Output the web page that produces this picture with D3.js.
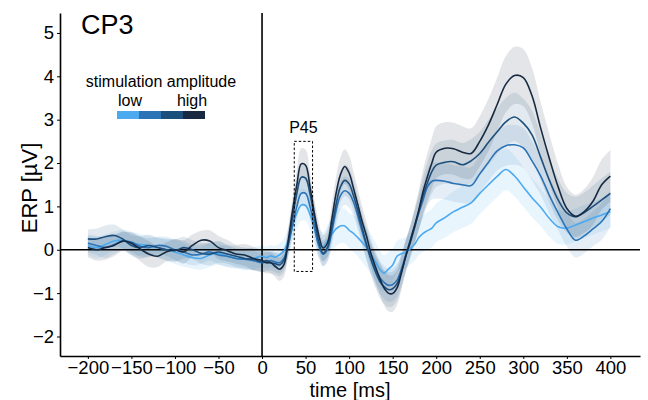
<!DOCTYPE html>
<html>
<head>
<meta charset="utf-8">
<script src="https://cdn.jsdelivr.net/npm/d3@7"></script>
<style>
  body { margin: 0; background: #fff; }
  svg { font-family: "Liberation Sans", Arial, sans-serif; display: block; }
</style>
</head>
<body>
<div id="chart"></div>
<script>
// time points (ms)
const times = [
  -200, -190, -180, -170, -160, -150, -140, -130, -120, -110, -100, -90, -80, -70, -60, -50, -40, -30, -20, -10, 0,
  5, 10, 15, 20, 25, 30, 35, 40, 45, 50, 55, 60, 65, 70, 75, 80, 85, 90, 95, 100,
  105, 110, 115, 120, 125, 130, 135, 140, 145, 150, 155, 160, 165, 170, 175, 180, 185, 190, 195, 200,
  210, 220, 230, 240, 250, 260, 270, 280, 290, 300, 310, 320, 330, 340, 350, 360, 370, 380, 390, 400
];

const levels = ["low", "2", "3", "high"];
const colors = ["#4ba9f0", "#2c73b6", "#1c4f7c", "#172a42"];

// mean ERP per stimulation amplitude (µV)
const erpLow = [
  0.1, 0.05, 0.12, 0.2, 0.22, 0.15, 0.12, 0.1, 0.05, 0.0, -0.05, -0.12, -0.18, -0.2, -0.12, -0.08, -0.15, -0.2, -0.22, -0.2, -0.15,
  -0.18, -0.14, -0.17, -0.12, -0.03, 0.2, 0.55, 0.85, 1.03, 1.02, 0.82, 0.5, 0.15, 0.07, 0.2, 0.35, 0.48, 0.55, 0.55, 0.45,
  0.38, 0.28, 0.17, 0.05, -0.1, -0.27, -0.45, -0.54, -0.45, -0.35, -0.15, -0.09, -0.06, 0.02, 0.12, 0.28, 0.38, 0.44, 0.5, 0.62,
  0.74, 0.88, 0.98, 1.08, 1.3, 1.5, 1.69, 1.85, 1.7, 1.45, 1.2, 0.98, 0.72, 0.53, 0.5, 0.57, 0.65, 0.73, 0.8, 0.88
];
const erp2 = [
  0.15, 0.1, 0.05, 0.12, 0.2, 0.18, 0.08, 0.05, 0.1, 0.08, 0.0, -0.05, -0.12, -0.1, -0.05, -0.12, -0.15, -0.2, -0.22, -0.25, -0.3,
  -0.28, -0.25, -0.28, -0.3, -0.2, 0.1, 0.55, 1.0, 1.3, 1.3, 1.0, 0.55, 0.1, -0.1, 0.0, 0.4, 0.9, 1.25, 1.36, 1.3,
  1.1, 0.78, 0.42, 0.1, -0.2, -0.45, -0.63, -0.75, -0.82, -0.8, -0.7, -0.45, -0.12, 0.2, 0.52, 0.85, 1.15, 1.45, 1.58, 1.6,
  1.58, 1.53, 1.5, 1.48, 1.75, 2.02, 2.28, 2.4, 2.42, 2.35, 2.05, 1.7, 1.25, 0.85, 0.48, 0.22, 0.32, 0.48, 0.65, 0.95
];
const erp3 = [
  0.25, 0.25, 0.3, 0.33, 0.25, 0.1, 0.05, 0.1, 0.05, 0.0, -0.02, 0.05, 0.0, -0.08, -0.1, -0.05, -0.1, -0.15, -0.2, -0.22, -0.28,
  -0.25, -0.3, -0.32, -0.35, -0.25, 0.15, 0.75, 1.3, 1.67, 1.65, 1.3, 0.75, 0.2, -0.08, 0.05, 0.5, 1.05, 1.45, 1.6, 1.52,
  1.25, 0.9, 0.5, 0.12, -0.22, -0.5, -0.72, -0.85, -0.92, -0.9, -0.78, -0.5, -0.15, 0.15, 0.5, 0.88, 1.25, 1.55, 1.8, 1.95,
  2.02, 2.03, 1.96, 2.05, 2.22, 2.48, 2.72, 2.95, 3.06, 2.92, 2.65, 2.13, 1.6, 1.15, 0.85, 0.76, 0.86, 1.0, 1.15, 1.3
];
const erpHigh = [
  0.05, 0.0, 0.05, 0.1, 0.2, 0.15, 0.02, -0.1, -0.15, -0.05, 0.0, -0.05, 0.1, 0.22, 0.2, 0.05, -0.02, -0.1, -0.12, -0.2, -0.25,
  -0.3, -0.3, -0.38, -0.45, -0.35, 0.2, 0.9, 1.5, 1.98, 1.95, 1.46, 0.85, 0.35, 0.04, 0.15, 0.69, 1.3, 1.73, 1.92, 1.77,
  1.42, 1.04, 0.65, 0.31, -0.08, -0.38, -0.65, -0.88, -1.0, -1.01, -0.88, -0.54, -0.15, 0.19, 0.55, 0.92, 1.35, 1.69, 2.0, 2.25,
  2.34, 2.33, 2.25, 2.22, 2.5, 2.88, 3.35, 3.82, 4.02, 3.97, 3.55, 2.8, 2.1, 1.45, 0.95, 0.77, 0.88, 1.12, 1.5, 1.7
];

// standard error half-widths for the shaded ribbons
const seLow = [
  0.22, 0.25, 0.24, 0.22, 0.25, 0.27, 0.25, 0.22, 0.24, 0.26, 0.28, 0.27, 0.25, 0.26, 0.28, 0.27, 0.25, 0.24, 0.25, 0.26, 0.25,
  0.25, 0.25, 0.26, 0.27, 0.28, 0.3, 0.33, 0.35, 0.36, 0.36, 0.35, 0.34, 0.33, 0.34, 0.36, 0.38, 0.4, 0.4, 0.4, 0.4,
  0.42, 0.44, 0.45, 0.46, 0.46, 0.45, 0.44, 0.42, 0.4, 0.38, 0.36, 0.35, 0.35, 0.36, 0.38, 0.4, 0.42, 0.43, 0.44, 0.45,
  0.46, 0.47, 0.48, 0.48, 0.48, 0.48, 0.48, 0.48, 0.47, 0.46, 0.45, 0.44, 0.42, 0.4, 0.38, 0.38, 0.38, 0.38, 0.38, 0.38
];
const se2 = [
  0.2, 0.22, 0.24, 0.22, 0.2, 0.22, 0.24, 0.22, 0.2, 0.22, 0.24, 0.25, 0.24, 0.22, 0.2, 0.22, 0.24, 0.22, 0.2, 0.22, 0.22,
  0.22, 0.22, 0.23, 0.24, 0.25, 0.27, 0.29, 0.3, 0.31, 0.31, 0.3, 0.29, 0.28, 0.28, 0.29, 0.3, 0.32, 0.33, 0.33, 0.33,
  0.32, 0.32, 0.33, 0.34, 0.35, 0.36, 0.37, 0.38, 0.38, 0.38, 0.37, 0.36, 0.35, 0.35, 0.36, 0.38, 0.4, 0.42, 0.42, 0.42,
  0.42, 0.42, 0.42, 0.42, 0.43, 0.44, 0.45, 0.46, 0.46, 0.46, 0.45, 0.44, 0.42, 0.4, 0.4, 0.4, 0.4, 0.4, 0.42, 0.42
];
const se3 = [
  0.22, 0.24, 0.26, 0.25, 0.22, 0.24, 0.26, 0.25, 0.22, 0.24, 0.26, 0.25, 0.22, 0.24, 0.26, 0.25, 0.22, 0.24, 0.25, 0.25, 0.24,
  0.24, 0.24, 0.25, 0.26, 0.27, 0.29, 0.31, 0.32, 0.33, 0.33, 0.32, 0.31, 0.3, 0.3, 0.31, 0.33, 0.35, 0.36, 0.36, 0.36,
  0.35, 0.34, 0.34, 0.35, 0.36, 0.37, 0.38, 0.39, 0.4, 0.4, 0.39, 0.38, 0.37, 0.37, 0.39, 0.42, 0.45, 0.48, 0.5, 0.5,
  0.5, 0.5, 0.5, 0.5, 0.5, 0.52, 0.54, 0.55, 0.56, 0.56, 0.55, 0.53, 0.5, 0.48, 0.46, 0.46, 0.46, 0.48, 0.5, 0.5
];
const seHigh = [
  0.22, 0.25, 0.28, 0.25, 0.22, 0.25, 0.28, 0.3, 0.25, 0.22, 0.25, 0.27, 0.25, 0.22, 0.25, 0.27, 0.25, 0.22, 0.25, 0.27, 0.25,
  0.25, 0.25, 0.25, 0.27, 0.28, 0.3, 0.32, 0.34, 0.36, 0.36, 0.35, 0.33, 0.3, 0.3, 0.32, 0.35, 0.38, 0.4, 0.4, 0.4,
  0.38, 0.36, 0.34, 0.33, 0.33, 0.35, 0.38, 0.4, 0.42, 0.42, 0.4, 0.38, 0.36, 0.36, 0.4, 0.45, 0.5, 0.55, 0.58, 0.6,
  0.6, 0.6, 0.6, 0.58, 0.58, 0.6, 0.62, 0.65, 0.66, 0.66, 0.64, 0.6, 0.56, 0.52, 0.5, 0.5, 0.52, 0.55, 0.58, 0.6
];

const xTicks = [-200, -150, -100, -50, 0, 50, 100, 150, 200, 250, 300, 350, 400];
const yTicks = [-2, -1, 0, 1, 2, 3, 4, 5];
const p45Window = [37, 58];
const p45Range = [-0.5, 2.5];

const means = [erpLow, erp2, erp3, erpHigh];
const ses = [seLow, se2, se3, seHigh];

const width = 648;
const height = 400;

const svg = d3.select("#chart")
  .append("svg")
  .attr("width", width)
  .attr("height", height);

svg.append("rect").attr("width", width).attr("height", height).attr("fill", "#fff");

const x = d3.scaleLinear().domain([-232, 434]).range([60, 640]);
const y = d3.scaleLinear().domain([-2.45, 5.46]).range([356, 13]);

const series = levels.map((lev, i) => ({
  level: lev,
  color: colors[i],
  points: times.map((t, j) => ({ t: t, v: means[i][j], se: ses[i][j] }))
}));

// ribbons
const area = d3.area()
  .x(d => x(d.t))
  .y0(d => y(d.v - d.se))
  .y1(d => y(d.v + d.se))
  .curve(d3.curveCatmullRom);

svg.append("g").selectAll("path")
  .data(series)
  .enter()
  .append("path")
  .attr("d", d => area(d.points))
  .attr("fill", d => d.color)
  .attr("fill-opacity", 0.12);

// zero lines
svg.append("line")
  .attr("x1", x.range()[0]).attr("x2", x.range()[1])
  .attr("y1", y(0)).attr("y2", y(0))
  .attr("stroke", "#000").attr("stroke-width", 1.6);
svg.append("line")
  .attr("x1", x(0)).attr("x2", x(0))
  .attr("y1", y.range()[0]).attr("y2", y.range()[1])
  .attr("stroke", "#000").attr("stroke-width", 1.6);

// mean lines
const line = d3.line()
  .x(d => x(d.t))
  .y(d => y(d.v))
  .curve(d3.curveCatmullRom);

svg.append("g").selectAll("path")
  .data(series)
  .enter()
  .append("path")
  .attr("d", d => line(d.points))
  .attr("fill", "none")
  .attr("stroke", d => d.color)
  .attr("stroke-width", 1.6);

// P45 window
svg.append("rect")
  .attr("x", x(p45Window[0]))
  .attr("y", y(p45Range[1]))
  .attr("width", x(p45Window[1]) - x(p45Window[0]))
  .attr("height", y(p45Range[0]) - y(p45Range[1]))
  .attr("fill", "none")
  .attr("stroke", "#000")
  .attr("stroke-width", 1)
  .attr("stroke-dasharray", "2.5,2");
svg.append("text")
  .attr("x", x((p45Window[0] + p45Window[1]) / 2))
  .attr("y", y(p45Range[1]) - 8)
  .attr("text-anchor", "middle")
  .attr("font-size", 16)
  .text("P45");

// axes
const xAxis = svg.append("g")
  .attr("transform", `translate(0,${y.range()[0]})`)
  .call(d3.axisBottom(x).tickValues(xTicks).tickSize(3).tickPadding(2).tickSizeOuter(0));
const yAxis = svg.append("g")
  .attr("transform", `translate(${x.range()[0]},0)`)
  .call(d3.axisLeft(y).tickValues(yTicks).tickSize(3).tickPadding(3).tickSizeOuter(0));

[xAxis, yAxis].forEach(g => {
  g.select(".domain").attr("stroke", "#000").attr("stroke-width", 1.6);
  g.selectAll(".tick line").attr("stroke", "#000");
  g.selectAll(".tick text")
    .attr("font-size", 18.5)
    .attr("font-family", "Liberation Sans, Arial, sans-serif")
    .attr("fill", "#000");
});

svg.append("text")
  .attr("x", (x.range()[0] + x.range()[1]) / 2)
  .attr("y", 397)
  .attr("text-anchor", "middle")
  .attr("font-size", 20)
  .text("time [ms]");

svg.append("text")
  .attr("transform", "translate(37,188) rotate(-90)")
  .attr("text-anchor", "middle")
  .attr("font-size", 22)
  .text("ERP [µV]");

// title
svg.append("text")
  .attr("x", 81)
  .attr("y", 34)
  .attr("font-size", 27)
  .text("CP3");

// legend
const legend = svg.append("g");
legend.append("text")
  .attr("x", 161).attr("y", 87)
  .attr("text-anchor", "middle")
  .attr("font-size", 16)
  .text("stimulation amplitude");
legend.append("text")
  .attr("x", 130).attr("y", 106)
  .attr("text-anchor", "middle")
  .attr("font-size", 16)
  .text("low");
legend.append("text")
  .attr("x", 192).attr("y", 106)
  .attr("text-anchor", "middle")
  .attr("font-size", 16)
  .text("high");
legend.selectAll("rect")
  .data(colors)
  .enter()
  .append("rect")
  .attr("x", (d, i) => 117 + i * 22)
  .attr("y", 111)
  .attr("width", 22)
  .attr("height", 8)
  .attr("fill", d => d);
</script>
</body>
</html>
